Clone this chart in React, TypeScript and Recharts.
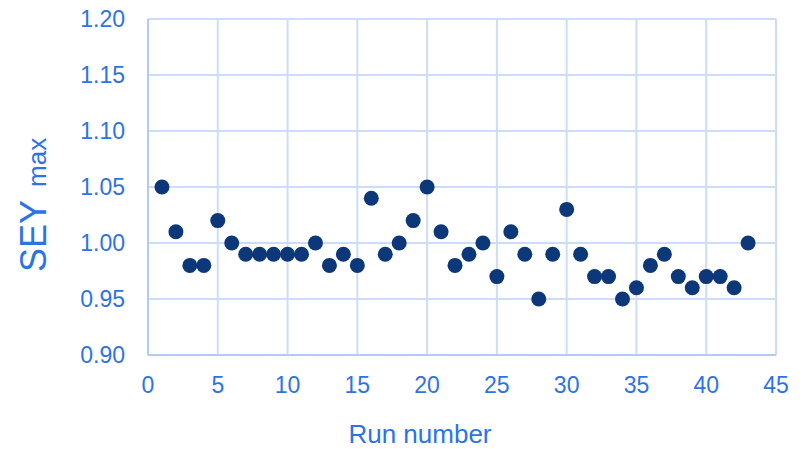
import { CartesianGrid, Scatter, ScatterChart, XAxis, YAxis } from 'recharts';

const runs = [
  1, 2, 3, 4, 5, 6, 7, 8, 9, 10, 11, 12, 13, 14, 15, 16, 17, 18, 19, 20, 21, 22,
  23, 24, 25, 26, 27, 28, 29, 30, 31, 32, 33, 34, 35, 36, 37, 38, 39, 40, 41, 42, 43,
];

const seyMax = [
  1.05, 1.01, 0.98, 0.98, 1.02, 1.0, 0.99, 0.99, 0.99, 0.99, 0.99, 1.0, 0.98, 0.99, 0.98,
  1.04, 0.99, 1.0, 1.02, 1.05, 1.01, 0.98, 0.99, 1.0, 0.97, 1.01, 0.99, 0.95, 0.99, 1.03,
  0.99, 0.97, 0.97, 0.95, 0.96, 0.98, 0.99, 0.97, 0.96, 0.97, 0.97, 0.96, 1.0,
];

const xTicks = [0, 5, 10, 15, 20, 25, 30, 35, 40, 45];
const yTicks = [0.9, 0.95, 1.0, 1.05, 1.1, 1.15, 1.2];

const points = runs.map((run, i) => ({ run, sey: seyMax[i] }));

const TEXT_BLUE = '#2c73e6';
const DOT_NAVY = '#0c3779';
const FONT = '"Liberation Sans", Arial, sans-serif';

export default function App() {
  return (
    <div style={{ position: 'fixed', left: 0, top: 0, width: 805, height: 449, background: '#fff' }}>
      <ScatterChart width={805} height={449} margin={{ top: 19, right: 29, bottom: 54, left: 48 }}>
        <CartesianGrid stroke="#cddcf8" strokeWidth={2} />
        <XAxis
          type="number"
          dataKey="run"
          domain={[0, 45]}
          ticks={xTicks}
          height={40}
          tickLine={false}
          tickSize={0}
          tickMargin={22}
          axisLine={{ stroke: '#b2cbf4', strokeWidth: 2 }}
          tick={{ fill: TEXT_BLUE, fontSize: 23, fontFamily: FONT }}
          label={{
            content: () => (
              <text x={420} y={443} textAnchor="middle" fill={TEXT_BLUE} fontSize={26} fontFamily={FONT}>
                Run number
              </text>
            ),
          }}
        />
        <YAxis
          type="number"
          dataKey="sey"
          domain={[0.9, 1.2]}
          ticks={yTicks}
          width={100}
          tickLine={false}
          tickSize={0}
          tickMargin={23}
          axisLine={{ stroke: '#b2cbf4', strokeWidth: 2 }}
          tickFormatter={(v: number) => v.toFixed(2)}
          tick={{ fill: TEXT_BLUE, fontSize: 23, fontFamily: FONT }}
          label={{
            content: () => (
              <text transform="translate(46,272) rotate(-90)" fill={TEXT_BLUE} fontFamily={FONT}>
                <tspan fontSize={36}>SEY</tspan>
                <tspan fontSize={26} dx={13}>max</tspan>
              </text>
            ),
          }}
        />
        <Scatter
          data={points}
          isAnimationActive={false}
          shape={(p: any) => <circle cx={p.cx} cy={p.cy} r={7.5} fill={DOT_NAVY} />}
        />
      </ScatterChart>
    </div>
  );
}
